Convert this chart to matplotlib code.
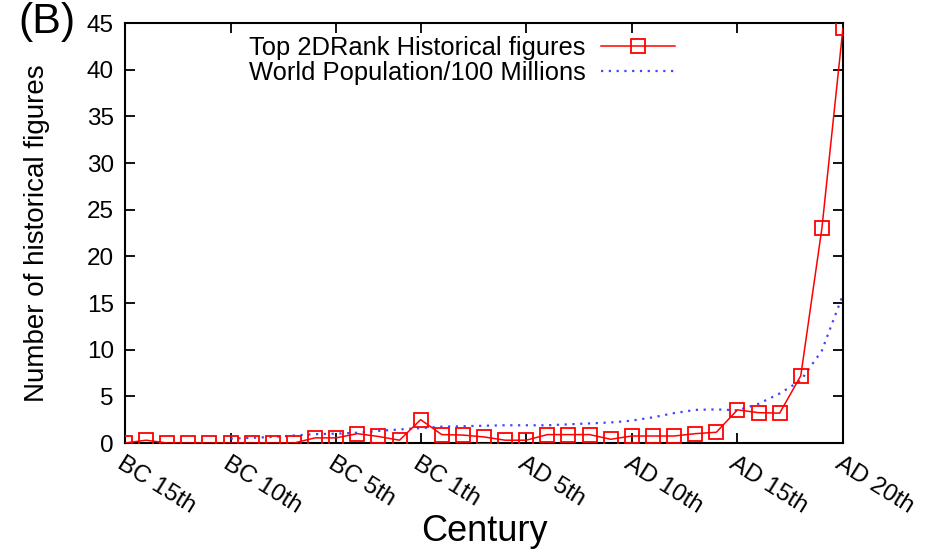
import matplotlib
matplotlib.use("Agg")
import matplotlib.pyplot as plt
import numpy as np

plt.rcParams['font.family'] = ['Liberation Sans', 'DejaVu Sans']

centuries = ["BC 15th", "BC 14th", "BC 13th", "BC 12th", "BC 11th", "BC 10th", "BC 9th", "BC 8th",
             "BC 7th", "BC 6th", "BC 5th", "BC 4th", "BC 3rd", "BC 2nd", "BC 1th",
             "AD 1st", "AD 2nd", "AD 3rd", "AD 4th", "AD 5th", "AD 6th", "AD 7th", "AD 8th",
             "AD 9th", "AD 10th", "AD 11th", "AD 12th", "AD 13th", "AD 14th", "AD 15th",
             "AD 16th", "AD 17th", "AD 18th", "AD 19th", "AD 20th"]

figures = [0.0, 0.3, 0.0, 0.0, 0.0, 0.0, 0.0, 0.0, 0.0, 0.55, 0.55, 1.0, 0.7, 0.3, 2.5,
           0.9, 0.85, 0.65, 0.3, 0.3, 0.9, 0.9, 0.9, 0.4, 0.75, 0.75, 0.75, 1.0, 1.15, 3.55,
           3.25, 3.2, 7.2, 23.0, 44.5]

population = [np.nan, np.nan, np.nan, np.nan, np.nan, 0.47, 0.55, 0.65, 0.8, 0.95, 1.0, 1.1,
              1.3, 1.45, 1.6, 1.75, 1.8, 1.85, 1.9, 1.9, 1.9, 2.0, 2.1, 2.2, 2.4, 2.75, 3.2,
              3.55, 3.6, 3.5, 4.2, 5.3, 6.7, 9.9, 15.9]

tick_labels = ["BC 15th", "BC 10th", "BC 5th", "BC 1th", "AD 5th", "AD 10th", "AD 15th", "AD 20th"]

x = np.arange(len(centuries))

fig = plt.figure(figsize=(9.31, 5.51), dpi=100)
ax = fig.add_axes([125/931, 108/551, 718/931, 420/551])

ax.plot(x, figures, color='#ff0000', lw=1.1, marker='s', markersize=9.5,
        markerfacecolor='none', markeredgecolor='#ff0000', markeredgewidth=1.3,
        label='Top 2DRank Historical figures', zorder=3)
ax.plot(x, population, color='#4444ff', lw=1.6, linestyle=(0, (1, 2.5)),
        label='World Population/100 Millions', zorder=2)

ax.set_xlim(0, len(centuries) - 1)
ax.set_ylim(0, 45)
ax.set_yticks(np.arange(0, 46, 5))
tick_pos = [centuries.index(t) for t in tick_labels]
ax.set_xticks(tick_pos)
ax.set_xticklabels(tick_labels, rotation=-32, ha='left', va='top', rotation_mode='anchor')

ax.tick_params(axis='both', direction='in', length=7, width=1.3, top=True, right=True,
               labelsize=17.5, colors='black')
ax.tick_params(axis='y', pad=8)
ax.tick_params(axis='x', pad=7)
for s in ax.spines.values():
    s.set_linewidth(1.5)

ax.set_ylabel('Number of historical figures', fontsize=20)
ax.yaxis.set_label_coords(-0.105, 0.5)
ax.set_xlabel('Century', fontsize=26)
ax.xaxis.set_label_coords(0.5, -0.17)

leg = ax.legend(loc='upper right', bbox_to_anchor=((675-125)/718, (443-36)/420),
                frameon=False, markerfirst=False, fontsize=18.4, handlelength=2.9,
                handletextpad=0.6, labelspacing=0.05, borderaxespad=0, borderpad=0)

fig.text(18/931, 1 - 2/551, '(B)', fontsize=31, ha='left', va='top')

fig.savefig('out.png', dpi=100)
